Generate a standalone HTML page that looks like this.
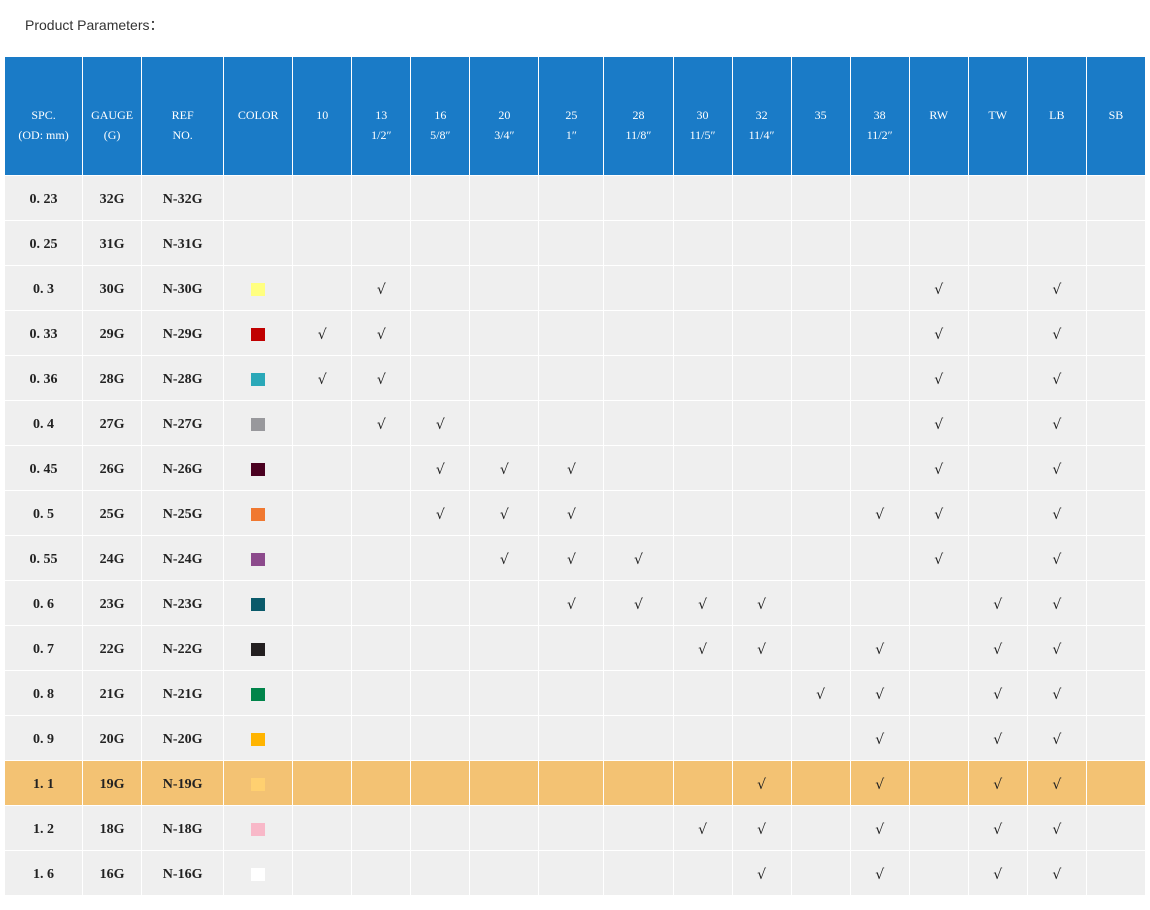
<!DOCTYPE html>
<html><head><meta charset="utf-8"><style>
body{margin:0;background:#fff;width:1150px;height:910px;position:relative;font-family:"Liberation Serif","Noto Serif CJK SC",serif;}
.title{position:absolute;left:25px;top:15px;font:14px "Liberation Sans","Noto Sans CJK SC",sans-serif;color:#333;}
table{position:absolute;left:4px;top:56px;border-collapse:collapse;table-layout:fixed;width:1142px;}
td{border:1px solid #fff;text-align:center;padding:0;color:#222;font-size:14px;}
thead td{background:#1a7bc7;color:#fff;height:101px;padding-top:17px;font-size:12px;line-height:20px;}
tbody td{background:#efefef;height:40px;padding-top:4px;}
tbody td:nth-child(-n+3){font-weight:bold;font-size:14px;}
tr.hl td{background:#f3c273;}
.sq{display:inline-block;width:14px;height:13px;vertical-align:middle;}
.c{font-family:"DejaVu Sans",sans-serif;font-size:14px;font-style:italic;}
</style></head><body>
<div class="title">Product Parameters：</div>
<table>
<colgroup><col style="width:78px"><col style="width:59px"><col style="width:82px"><col style="width:69px"><col style="width:59px"><col style="width:59px"><col style="width:59px"><col style="width:69px"><col style="width:65px"><col style="width:69px"><col style="width:59px"><col style="width:59px"><col style="width:59px"><col style="width:59px"><col style="width:59px"><col style="width:59px"><col style="width:59px"><col style="width:59px"></colgroup>
<thead><tr><td>SPC.<br>(OD: mm)</td><td>GAUGE<br>(G)</td><td>REF<br>NO.</td><td>COLOR<br>&nbsp;</td><td>10<br>&nbsp;</td><td>13<br>1/2″</td><td>16<br>5/8″</td><td>20<br>3/4″</td><td>25<br>1″</td><td>28<br>11/8″</td><td>30<br>11/5″</td><td>32<br>11/4″</td><td>35<br>&nbsp;</td><td>38<br>11/2″</td><td>RW<br>&nbsp;</td><td>TW<br>&nbsp;</td><td>LB<br>&nbsp;</td><td>SB<br>&nbsp;</td></tr></thead>
<tbody id="b"></tbody>
</table>
<script>
var rows=[
["0.23","32G","",[]],["0.25","31G","",[]],
["0.3","30G","#ffff80",[1,10,12]],
["0.33","29G","#c00000",[0,1,10,12]],
["0.36","28G","#2aa8b8",[0,1,10,12]],
["0.4","27G","#98989c",[1,2,10,12]],
["0.45","26G","#4a0020",[2,3,4,10,12]],
["0.5","25G","#f07830",[2,3,4,9,10,12]],
["0.55","24G","#8c4a8c",[3,4,5,10,12]],
["0.6","23G","#0a5a6a",[4,5,6,7,11,12]],
["0.7","22G","#231f20",[6,7,9,11,12]],
["0.8","21G","#00844a",[8,9,11,12]],
["0.9","20G","#ffb400",[9,11,12]],
["1.1","19G","#ffd070",[7,9,11,12]],
["1.2","18G","#f8b8c8",[6,7,9,11,12]],
["1.6","16G","#ffffff",[7,9,11,12]]];
var h="";
rows.forEach(function(r){
 h+='<tr'+(r[0]=="1.1"?' class="hl"':'')+'><td>'+r[0].replace(".",". ")+'</td><td>'+r[1]+'</td><td>N-'+r[1]+'</td><td>'+(r[2]?'<span class="sq" style="background:'+r[2]+'"></span>':'')+'</td>';
 for(var i=0;i<14;i++)h+='<td>'+(r[3].indexOf(i)>=0?'<span class="c">√</span>':'')+'</td>';
 h+='</tr>';});
document.getElementById("b").innerHTML=h;
</script>
</body></html>
